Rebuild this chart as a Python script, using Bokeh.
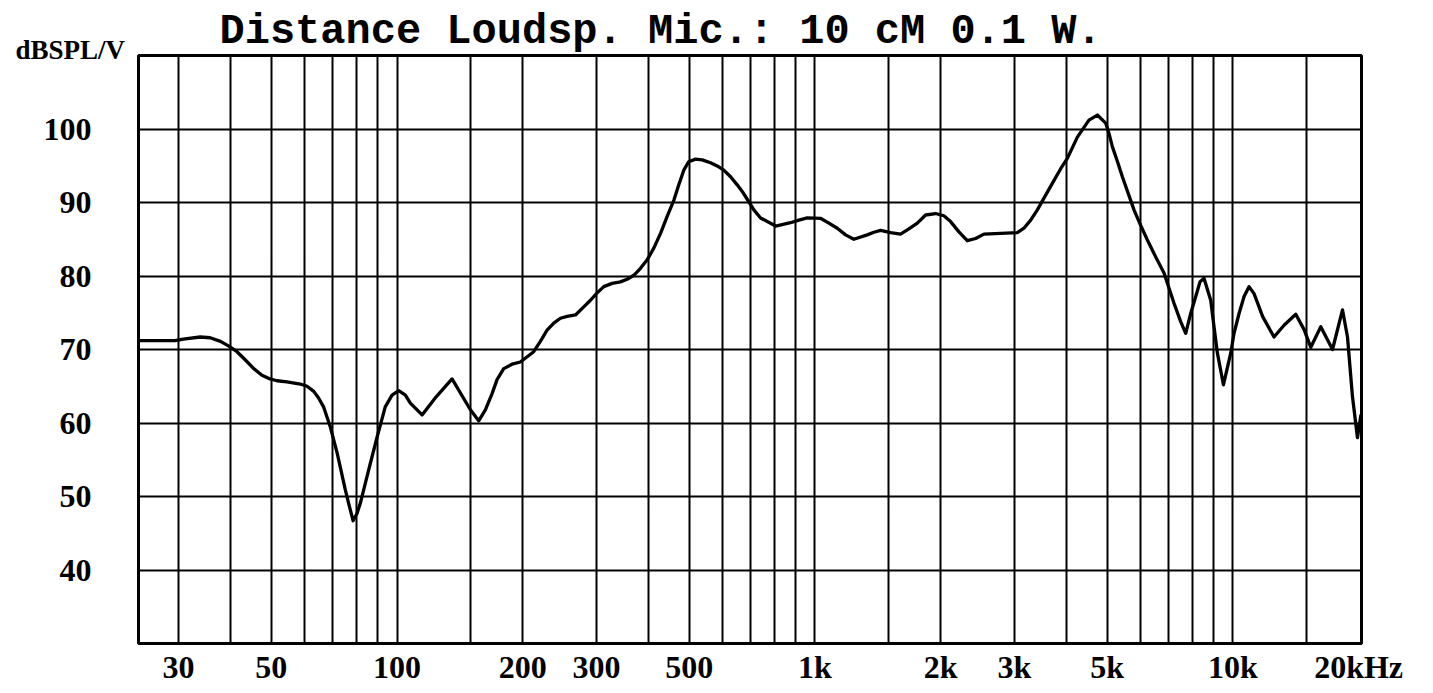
from bokeh.plotting import figure
from bokeh.models import Range1d, FixedTicker, Title
from bokeh.embed import file_html
from bokeh.resources import INLINE

# Frequency response (Hz, dB SPL)
freq_hz = [24.1, 29.4, 30.8, 33.8, 35.7, 37.8, 39.5, 41.4, 43.3, 45.4, 47.5, 49.7,
           51.6, 54.5, 58.7, 60.9, 63.2, 64.9, 66.7, 69.2, 71.9, 75.2, 76.8, 78.5,
           80.2, 81.7, 85.5, 89.6, 93.7, 97.3, 100.9, 104.7, 107.6, 114.8, 124.2,
           135.4, 149.8, 156.8, 162.7, 168.8, 173.5, 180.0, 188.5, 197.3, 212.3,
           220.3, 228.6, 237.1, 246.0, 255.3, 267.3, 279.8, 290.3, 301.2, 312.4,
           327.1, 342.4, 355.3, 368.6, 382.4, 396.8, 411.5, 427.1, 443.0, 459.5,
           472.3, 485.5, 499.0, 517.8, 537.3, 562.5, 583.6, 605.2, 628.2, 651.6,
           669.9, 694.7, 714.2, 741.1, 805.0, 874.2, 915.2, 958.5, 1031, 1080,
           1131, 1184, 1239, 1334, 1384, 1436, 1517, 1603, 1678, 1758, 1840, 1944,
           2035, 2112, 2211, 2315, 2424, 2537, 2781, 3050, 3163, 3283, 3406, 3532,
           3699, 3873, 4018, 4246, 4526, 4740, 4963, 5054, 5149, 5293, 5441, 5801,
           6019, 6245, 6537, 6845, 7232, 7503, 7714, 7928, 8152, 8345, 8531, 8853,
           9016, 9186, 9495, 9885, 10067, 10349, 10640, 10933, 11240, 11554, 11780,
           12548, 13260, 14145, 14810, 15367, 16236, 17318, 18299, 18811, 19333,
           19874, 20238]
spl_db = [71.2, 71.2, 71.4, 71.7, 71.6, 71.1, 70.5, 69.7, 68.6, 67.4, 66.5, 66.0,
          65.75, 65.6, 65.3, 65.0, 64.3, 63.4, 62.2, 59.5, 55.9, 50.9, 48.8, 46.7,
          47.7, 49.1, 53.6, 58.1, 62.2, 63.8, 64.4, 63.8, 62.7, 61.1, 63.6,
          66.0, 61.8, 60.3, 61.8, 64.0, 65.9, 67.4, 68.0, 68.3, 69.7,
          71.1, 72.65, 73.6, 74.25, 74.5, 74.7, 75.8, 76.7, 77.7, 78.55,
          79.0, 79.2, 79.55, 80.1, 81.05, 82.2, 83.8, 85.8, 88.1, 90.3,
          92.4, 94.4, 95.55, 95.9, 95.8, 95.4, 94.97, 94.4, 93.5, 92.4,
          91.5, 90.1, 89.0, 87.9, 86.8, 87.25, 87.6, 87.9, 87.85, 87.2,
          86.5, 85.6, 85.0, 85.6, 85.95, 86.2, 85.9, 85.7, 86.4, 87.2, 88.3, 88.5,
          88.2, 87.4, 86.0, 84.8, 85.1, 85.7, 85.8, 85.9, 86.5, 87.6, 89.0, 90.6,
          92.6, 94.6, 96.0, 98.9, 101.2, 101.9, 100.8, 99.4, 97.6, 95.6, 93.5, 89.0,
          86.9, 84.9, 82.6, 80.4, 76.3, 73.8, 72.2, 74.9, 77.2, 79.2, 79.7, 76.7,
          73.1, 69.5, 65.2, 69.5, 72.2, 74.9, 77.2, 78.55, 77.6, 75.8, 74.5,
          71.7, 73.3, 74.8, 72.7, 70.3, 73.1, 70.0, 75.4, 71.7, 63.6,
          58.0, 61.0]

grid_freqs = [30, 40, 50, 60, 70, 80, 90, 100, 150, 200, 300, 400, 500, 600, 700,
              800, 900, 1000, 1500, 2000, 3000, 4000, 5000, 6000, 7000, 8000, 9000,
              10000, 15000]
label_freqs = [30, 50, 100, 200, 300, 500, 1000, 2000, 3000, 5000, 10000, 20000]
label_texts = ["30", "50", "100", "200", "300", "500", "1k", "2k", "3k", "5k",
               "10k", "20kHz"]
db_ticks = [40, 50, 60, 70, 80, 90, 100]

title_text = "Distance Loudsp. Mic.: 10 cM 0.1 W."
unit_text = "dBSPL/V"

p = figure(width=1433, height=693, x_axis_type="log",
           x_range=Range1d(24.06, 20320), y_range=Range1d(30, 110),
           output_backend="svg", toolbar_location=None,
           min_border_left=138, min_border_right=72,
           min_border_top=55, min_border_bottom=50)

p.background_fill_color = "white"
p.border_fill_color = "white"
p.outline_line_color = "black"
p.outline_line_width = 3

p.xgrid.ticker = FixedTicker(ticks=grid_freqs)
p.ygrid.ticker = FixedTicker(ticks=db_ticks)
for g in (p.xgrid, p.ygrid):
    g.grid_line_color = "black"
    g.grid_line_width = 2
    g.grid_line_alpha = 1.0

p.xaxis.ticker = FixedTicker(ticks=label_freqs)
p.xaxis.major_label_overrides = {f: t for f, t in zip(label_freqs, label_texts)}
p.yaxis.ticker = FixedTicker(ticks=db_ticks)
p.yaxis.major_label_overrides = {d: str(d) for d in db_ticks}

for ax in (p.xaxis, p.yaxis):
    ax.axis_line_color = None
    ax.major_tick_line_color = None
    ax.minor_tick_line_color = None
    ax.major_tick_in = 0
    ax.major_tick_out = 0
    ax.major_label_text_font = "Liberation Serif"
    ax.major_label_text_font_style = "bold"
    ax.major_label_text_font_size = "32px"
    ax.major_label_text_color = "black"
p.xaxis.major_label_standoff = 5
p.yaxis.major_label_standoff = 47

p.line(freq_hz, spl_db, line_color="black", line_width=3.3,
       line_join="round", line_cap="round")

# unit label (closest to the frame), then main title above it
p.add_layout(Title(text=unit_text, align="left", offset=-123, standoff=-18,
                   text_font="Liberation Serif", text_font_style="bold",
                   text_font_size="27px", text_color="black"), "above")
p.add_layout(Title(text=title_text, align="left", offset=81, standoff=-28,
                   text_font="Liberation Mono", text_font_style="bold",
                   text_font_size="42px", text_color="black"), "above")

open("out.html", "w").write(file_html(p, INLINE))
